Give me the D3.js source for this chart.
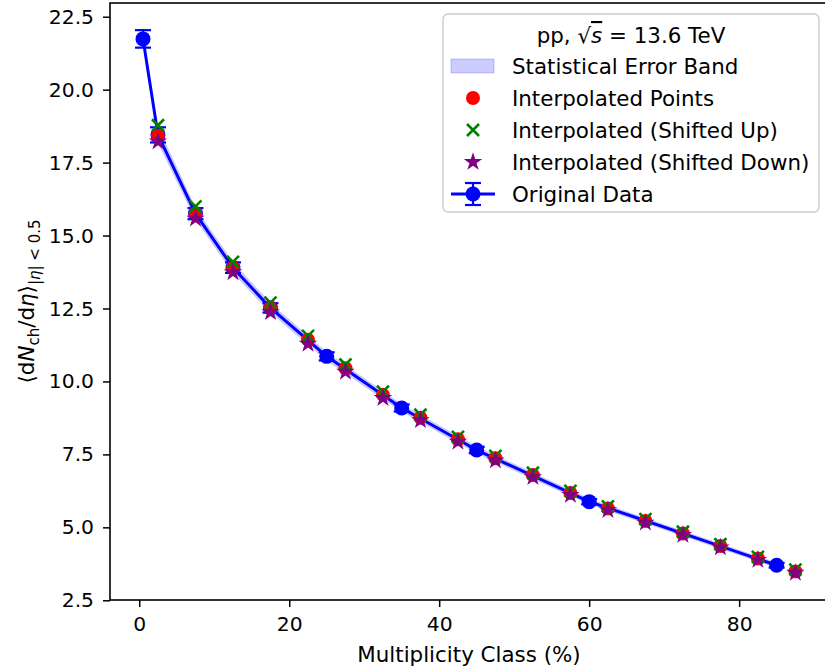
<!DOCTYPE html>
<html>
<head>
<meta charset="utf-8">
<script src="https://cdn.jsdelivr.net/npm/d3@7"></script>
<style>
  body { margin: 0; background: #fff; }
  svg { display: block; font-family: "DejaVu Sans", sans-serif; }
</style>
</head>
<body>
<svg id="chart" width="825" height="668"></svg>
<script>
// original measurements (multiplicity class centres, %)
const origX = [0.5, 2.5, 7.5, 12.5, 17.5, 25, 35, 45, 60, 85];
const origY = [21.74, 18.45, 15.75, 13.90, 12.52, 10.86, 9.09, 7.65, 5.88, 3.70];
const origErr = [0.30, 0.26, 0.19, 0.18, 0.16, 0.14, 0.12, 0.11, 0.09, 0.08];

// interpolated classes
const interpX = [2.5, 7.5, 12.5, 17.5, 22.5, 27.5, 32.5, 37.5, 42.5, 47.5,
  52.5, 57.5, 62.5, 67.5, 72.5, 77.5, 82.5, 87.5];
const interpY = [18.42, 15.76, 13.90, 12.52, 11.43, 10.45, 9.54, 8.76, 8.02, 7.37,
  6.79, 6.18, 5.65, 5.22, 4.79, 4.36, 3.93, 3.49];
const shiftedUp = [18.78, 16.00, 14.10, 12.70, 11.56, 10.58, 9.65, 8.86, 8.10, 7.45,
  6.87, 6.25, 5.72, 5.28, 4.85, 4.42, 3.99, 3.55];
const shiftedDown = [18.22, 15.58, 13.74, 12.37, 11.29, 10.33, 9.43, 8.67, 7.93, 7.29,
  6.72, 6.11, 5.59, 5.16, 4.74, 4.31, 3.88, 3.44];

const xTicks = [0, 20, 40, 60, 80];
const yTicks = [2.5, 5.0, 7.5, 10.0, 12.5, 15.0, 17.5, 20.0, 22.5];

const legendLabels = ['Statistical Error Band', 'Interpolated Points',
  'Interpolated (Shifted Up)', 'Interpolated (Shifted Down)', 'Original Data'];

const plot = { left: 110, right: 828, top: 3, bottom: 600 };
const fs = 21.4;     // labels, legend
const tickFs = 20.3; // tick labels
const subFs = 15;

const svg = d3.select('#chart');

const x = d3.scaleLinear().domain([-3.9, 91.85]).range([plot.left, plot.right]);
const y = d3.scaleLinear().domain([2.51, 22.97]).range([plot.bottom, plot.top]);

const g = svg.append('g');

// error band, only across the interpolation range
const bandData = origX.map((d, i) => ({ x: d, lo: origY[i] - origErr[i], hi: origY[i] + origErr[i] }))
  .filter(d => d.x >= 2.5);
g.append('path')
  .datum(bandData)
  .attr('fill', 'blue')
  .attr('fill-opacity', 0.2)
  .attr('stroke', 'blue')
  .attr('stroke-opacity', 0.12)
  .attr('stroke-width', 1)
  .attr('d', d3.area().x(d => x(d.x)).y0(d => y(d.lo)).y1(d => y(d.hi)));

// original data line + errorbars
const orig = origX.map((d, i) => ({ x: d, y: origY[i], e: origErr[i] }));
g.append('path')
  .datum(orig)
  .attr('fill', 'none')
  .attr('stroke', 'blue')
  .attr('stroke-width', 3)
  .attr('stroke-linejoin', 'round')
  .attr('d', d3.line().x(d => x(d.x)).y(d => y(d.y)));

const eb = g.append('g').attr('stroke', 'blue').attr('stroke-width', 2.2);
orig.forEach(d => {
  eb.append('line').attr('x1', x(d.x)).attr('x2', x(d.x))
    .attr('y1', y(d.y - d.e)).attr('y2', y(d.y + d.e));
  [d.y - d.e, d.y + d.e].forEach(v => {
    eb.append('line').attr('x1', x(d.x) - 8).attr('x2', x(d.x) + 8)
      .attr('y1', y(v)).attr('y2', y(v));
  });
});
g.append('g').selectAll('circle').data(orig).join('circle')
  .attr('cx', d => x(d.x)).attr('cy', d => y(d.y)).attr('r', 7.5)
  .attr('fill', 'blue');

// interpolated markers
g.append('g').selectAll('circle').data(interpX).join('circle')
  .attr('cx', d => x(d)).attr('cy', (d, i) => y(interpY[i])).attr('r', 7)
  .attr('fill', 'red');

function crossPath(cx, cy, s) {
  return `M${cx - s},${cy - s}L${cx + s},${cy + s}M${cx - s},${cy + s}L${cx + s},${cy - s}`;
}
g.append('g').selectAll('path').data(interpX).join('path')
  .attr('d', (d, i) => crossPath(x(d), y(shiftedUp[i]), 6))
  .attr('stroke', 'green').attr('stroke-width', 2.6).attr('fill', 'none');

const star = d3.symbol().type(d3.symbolStar).size(105);
g.append('g').selectAll('path').data(interpX).join('path')
  .attr('transform', (d, i) => `translate(${x(d)},${y(shiftedDown[i])})`)
  .attr('d', star)
  .attr('fill', 'purple');

// axes
const xAxis = svg.append('g')
  .attr('transform', `translate(0,${plot.bottom})`)
  .call(d3.axisBottom(x).tickValues(xTicks).tickSize(7).tickPadding(10).tickFormat(d3.format('d')));
const yAxis = svg.append('g')
  .attr('transform', `translate(${plot.left},0)`)
  .call(d3.axisLeft(y).tickValues(yTicks).tickSize(7).tickPadding(9).tickFormat(d3.format('.1f')));
[xAxis, yAxis].forEach(a => {
  a.select('.domain').remove();
  a.selectAll('line').attr('stroke', '#000').attr('stroke-width', 1.5);
  a.selectAll('text').attr('font-size', tickFs).attr('font-family', 'DejaVu Sans').attr('fill', '#000');
});

// frame
svg.append('rect')
  .attr('x', plot.left).attr('y', plot.top)
  .attr('width', plot.right - plot.left).attr('height', plot.bottom - plot.top)
  .attr('fill', 'none').attr('stroke', '#000').attr('stroke-width', 1.6);

// axis labels
svg.append('text')
  .attr('x', (plot.left + plot.right) / 2).attr('y', 662)
  .attr('text-anchor', 'middle').attr('font-size', fs)
  .text('Multiplicity Class (%)');

const yl = svg.append('text')
  .attr('transform', `translate(34,${(plot.top + plot.bottom) / 2}) rotate(-90)`)
  .attr('text-anchor', 'middle').attr('font-size', fs);
yl.append('tspan').text('\u27E8d');
yl.append('tspan').attr('font-style', 'italic').text('N');
yl.append('tspan').attr('font-size', subFs).attr('dy', 4.5).text('ch');
yl.append('tspan').attr('dy', -4.5).text('/d');
yl.append('tspan').attr('font-style', 'italic').text('\u03B7');
yl.append('tspan').text('\u27E9');
yl.append('tspan').attr('font-size', subFs).attr('dy', 6).text('|');
yl.append('tspan').attr('font-size', subFs).attr('font-style', 'italic').text('\u03B7');
yl.append('tspan').attr('font-size', subFs).text('| < 0.5');

// legend
const lg = svg.append('g');
lg.append('rect')
  .attr('x', 443).attr('y', 14).attr('width', 376).attr('height', 198).attr('rx', 5)
  .attr('fill', '#fff').attr('fill-opacity', 0.8)
  .attr('stroke', '#cccccc').attr('stroke-width', 1.4);

const title = lg.append('text')
  .attr('x', 631).attr('y', 43).attr('text-anchor', 'middle').attr('font-size', fs);
title.append('tspan').text('pp, \u221A');
title.append('tspan').attr('font-style', 'italic').style('text-decoration', 'overline').text('s');
title.append('tspan').text(' = 13.6 TeV');

const rowY = [66, 98, 130, 162, 194];
const hx = 473;
lg.selectAll('text.lab').data(legendLabels).join('text')
  .attr('class', 'lab')
  .attr('x', 512).attr('y', (d, i) => rowY[i] + 8)
  .attr('font-size', fs)
  .text(d => d);

lg.append('rect').attr('x', 451).attr('y', rowY[0] - 7).attr('width', 43).attr('height', 14)
  .attr('fill', 'blue').attr('fill-opacity', 0.2)
  .attr('stroke', 'blue').attr('stroke-opacity', 0.2);
lg.append('circle').attr('cx', hx).attr('cy', rowY[1]).attr('r', 7).attr('fill', 'red');
lg.append('path').attr('d', crossPath(hx, rowY[2], 6))
  .attr('stroke', 'green').attr('stroke-width', 2.6).attr('fill', 'none');
lg.append('path').attr('transform', `translate(${hx},${rowY[3]})`).attr('d', star).attr('fill', 'purple');
const oh = lg.append('g').attr('stroke', 'blue');
oh.append('line').attr('x1', 451).attr('x2', 495).attr('y1', rowY[4]).attr('y2', rowY[4]).attr('stroke-width', 3);
oh.append('line').attr('x1', hx).attr('x2', hx).attr('y1', rowY[4] - 11).attr('y2', rowY[4] + 11).attr('stroke-width', 2.2);
oh.append('line').attr('x1', hx - 8).attr('x2', hx + 8).attr('y1', rowY[4] - 11).attr('y2', rowY[4] - 11).attr('stroke-width', 2.2);
oh.append('line').attr('x1', hx - 8).attr('x2', hx + 8).attr('y1', rowY[4] + 11).attr('y2', rowY[4] + 11).attr('stroke-width', 2.2);
lg.append('circle').attr('cx', hx).attr('cy', rowY[4]).attr('r', 7.5).attr('fill', 'blue');
</script>
</body>
</html>
